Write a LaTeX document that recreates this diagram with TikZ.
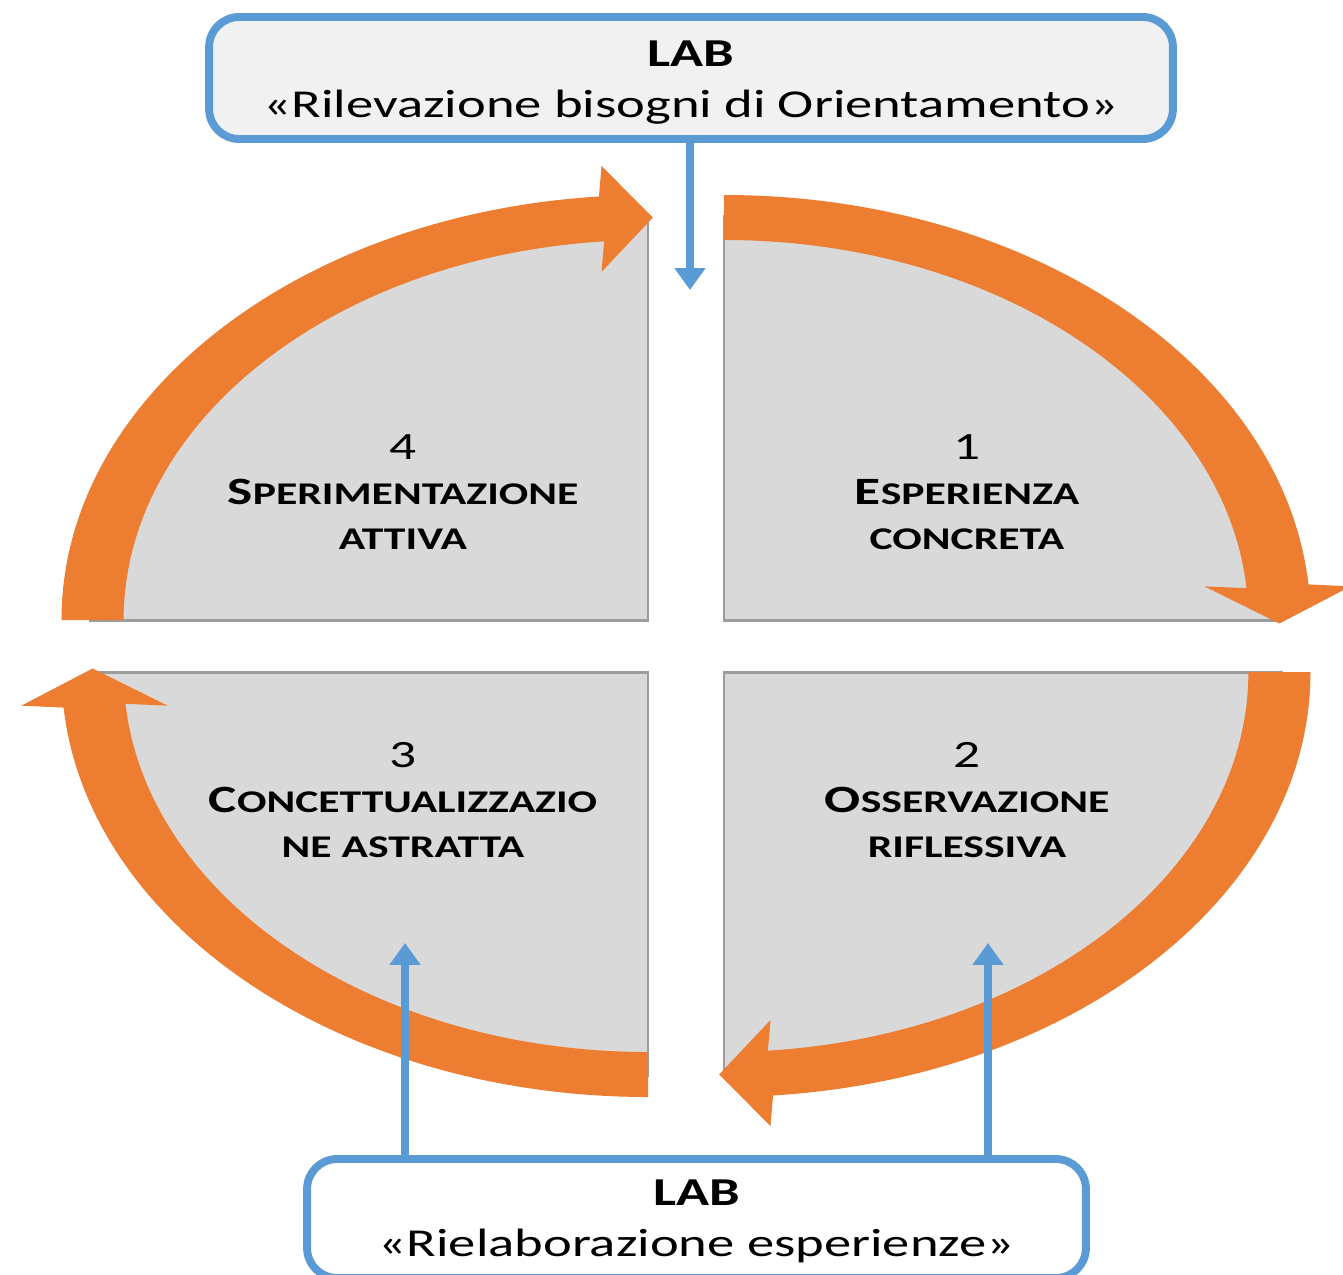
\documentclass[tikz,border=0pt]{standalone}
\usepackage{fontspec}
\setmainfont{Carlito}
\usepackage{graphicx}
\usetikzlibrary{arrows.meta,calc}
\definecolor{korange}{HTML}{ED7D31}
\definecolor{kblue}{HTML}{5B9BD5}
\definecolor{kgray}{HTML}{D9D9D9}
\definecolor{kedge}{HTML}{9C9C9C}
\definecolor{kboxfill}{HTML}{F1F1F1}
\newcommand\hs[1]{\scalebox{1.38}[1]{#1}}
\newcommand\smc[2]{{\fontsize{22}{25.6}\selectfont #1}{\fontsize{18}{25.6}\selectfont #2}}
\begin{document}
\begin{tikzpicture}[x=0.02cm,y=-0.02cm,
  quadfill/.style={fill=kgray},
  quadedge/.style={draw=kedge,line width=1.7pt},
  band/.style={fill=korange},
  labbox/.style={draw=kblue,line width=4.5pt,rounded corners=0.6cm,inner sep=0pt},
  labtext/.style={align=center,inner sep=0pt,font=\fontsize{22.5}{29}\selectfont},
  flow/.style={draw=kblue,line width=4.5pt,-{Triangle[length=12.5pt,width=17pt]}},
  qtext/.style={align=center,font=\fontsize{22}{25.6}\selectfont,inner sep=0pt}]
\useasboundingbox (0,0) rectangle (1343,1275);
\clip (0,0) rectangle (1343,1275);
% quadrants with their orange arcs
\foreach \cx/\cy/\a in {724/620/90, 724/672/0, 648/672/-90, 648/620/180}{
  \begin{scope}[shift={(\cx,\cy)}, xscale=1.38, yscale=-1]
    \fill[quadfill] (0,0) -- (\a:405) arc[start angle=\a, end angle=\a-90, radius=405] -- cycle;
    \draw[quadedge] (\a:405) -- (0,0) -- (\a-90:405);
    \fill[band] (\a:425) arc[start angle=\a, end angle=\a-85.2, radius=425]
      -- ($(\a-85.2:402.5)+(\a-90:53)$) -- (\a-90.5:402.5) -- ($(\a-85.2:402.5)+(\a-90:-53)$)
      -- (\a-85.2:380) arc[start angle=\a-85.2, end angle=\a, radius=380] -- cycle;
  \end{scope}
}
% quadrant texts
\node[qtext] (q1) at (967,492) {\hs{1}\\ \hs{\textbf{\smc{E}{SPERIENZA}}}\\ \hs{\textbf{\smc{}{CONCRETA}}}};
\node[qtext] (q2) at (967,800) {\hs{2}\\ \hs{\textbf{\smc{O}{SSERVAZIONE}}}\\ \hs{\textbf{\smc{}{RIFLESSIVA}}}};
\node[qtext] (q3) at (403,800) {\hs{3}\\ \hs{\textbf{\smc{C}{ONCETTUALIZZAZIO}}}\\ \hs{\textbf{\smc{}{NE ASTRATTA}}}};
\node[qtext] (q4) at (403,492) {\hs{4}\\ \hs{\textbf{\smc{S}{PERIMENTAZIONE}}}\\ \hs{\textbf{\smc{}{ATTIVA}}}};
% LAB boxes
\node[labbox, fill=kboxfill, minimum width=19.28cm, minimum height=2.44cm] (top) at (691,78) {};
\node[labtext] (toptext) at (691,83)
  {\hs{\textbf{LAB}}\\ \hs{«Rilevazione bisogni di Orientamento»}};
\node[labbox, fill=white, minimum width=15.58cm, minimum height=2.38cm] (bot) at (696.5,1218.5) {};
\node[labtext] (bottext) at (696.5,1221)
  {\hs{\textbf{LAB}}\\ \hs{«Rielaborazione esperienze»}};
% blue arrows
\coordinate (t1) at (690,290);
\coordinate (b1) at (405,943);
\coordinate (b2) at (988,943);
\draw[flow] (top.south -| t1) -- (t1);
\draw[flow] (bot.north -| b1) -- (b1);
\draw[flow] (bot.north -| b2) -- (b2);
\end{tikzpicture}
\end{document}
